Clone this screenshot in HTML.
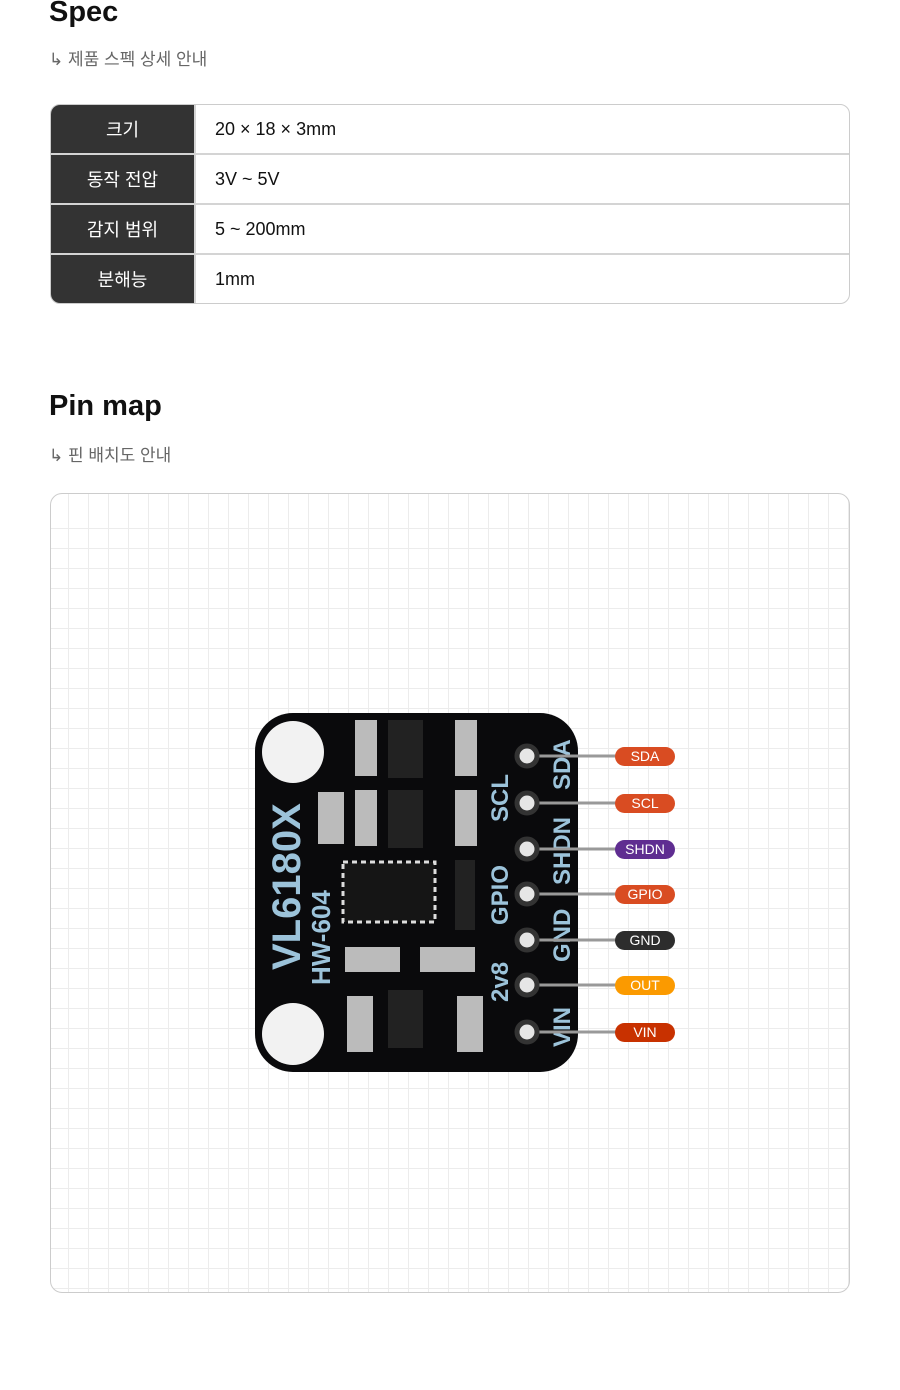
<!DOCTYPE html>
<html><head><meta charset="utf-8"><style>
body{margin:0;width:900px;height:1390px;background:#fff;font-family:"Liberation Sans","Noto Sans CJK KR",sans-serif;position:relative;overflow:hidden}
h2{position:absolute;left:49px;margin:0;font-size:29px;font-weight:700;color:#111}
.sub{position:absolute;left:49px;font-size:17px;color:#666}
table{position:absolute;left:50px;top:104px;width:800px;border-collapse:separate;border-spacing:0;border:1px solid #ccc;border-radius:10px;overflow:hidden}
td{height:48px;padding:0;font-size:18px;border-bottom:2px solid #d4d4d4;box-sizing:content-box}
tr:last-child td{border-bottom:none;height:48px}
td.k{width:143px;background:#333;color:#fff;text-align:center;border-right:2px solid #d4d4d4}
td.v{padding-left:19px;color:#111}
.box{position:absolute;left:50px;top:493px;width:798px;height:798px;border:1px solid #ccc;border-radius:12px;overflow:hidden;
background-image:repeating-linear-gradient(90deg,transparent 0 17px,#ececec 17px 18px,transparent 18px 20px),repeating-linear-gradient(0deg,transparent 0 19px,#ececec 19px 20px);background-position:0 0,0 16px}
</style></head><body>
<h2 style="top:-4px">Spec</h2>
<div class="sub" style="top:45px">↳ 제품 스펙 상세 안내</div>
<table>
<tr><td class="k">크기</td><td class="v">20 × 18 × 3mm</td></tr>
<tr><td class="k">동작 전압</td><td class="v">3V ~ 5V</td></tr>
<tr><td class="k">감지 범위</td><td class="v">5 ~ 200mm</td></tr>
<tr><td class="k">분해능</td><td class="v">1mm</td></tr>
</table>
<h2 style="top:390px">Pin map</h2>
<div class="sub" style="top:441px">↳ 핀 배치도 안내</div>
<div class="box"></div>
<svg style="position:absolute;left:0;top:0" width="900" height="1390" font-family="Liberation Sans, sans-serif">
<rect x="255" y="713" width="323" height="359" rx="38" fill="#0a0a0c"/>
<circle cx="293" cy="752" r="31" fill="#f2f2f2"/>
<circle cx="293" cy="1034" r="31" fill="#f2f2f2"/>
<rect x="343" y="862" width="92" height="60" fill="#151515" stroke="#ddd" stroke-dasharray="5 4" stroke-width="3"/>
<g fill="#bbb"><rect x="355" y="720" width="22" height="56"/><rect x="455" y="720" width="22" height="56"/><rect x="355" y="790" width="22" height="56"/><rect x="455" y="790" width="22" height="56"/><rect x="318" y="792" width="26" height="52"/><rect x="345" y="947" width="55" height="25"/><rect x="420" y="947" width="55" height="25"/><rect x="347" y="996" width="26" height="56"/><rect x="457" y="996" width="26" height="56"/></g>
<g fill="#222"><rect x="388" y="720" width="35" height="58"/><rect x="388" y="790" width="35" height="58"/><rect x="388" y="990" width="35" height="58"/><rect x="455" y="860" width="20" height="70"/></g>
<g fill="#9cc3da" font-weight="700">
<text transform="translate(300,970) rotate(-90)" font-size="40">VL6180X</text>
<text transform="translate(330,985) rotate(-90)" font-size="26">HW-604</text>
<text transform="translate(570,790) rotate(-90)" font-size="24">SDA</text>
<text transform="translate(508,822) rotate(-90)" font-size="24">SCL</text>
<text transform="translate(570,885) rotate(-90)" font-size="24">SHDN</text>
<text transform="translate(508,925) rotate(-90)" font-size="24">GPIO</text>
<text transform="translate(570,962) rotate(-90)" font-size="24">GND</text>
<text transform="translate(508,1002) rotate(-90)" font-size="24">2v8</text>
<text transform="translate(570,1047) rotate(-90)" font-size="24">VIN</text>
</g>
<g stroke="#999" stroke-width="3">
<line x1="530" y1="756" x2="620" y2="756"/><line x1="530" y1="803" x2="620" y2="803"/><line x1="530" y1="849" x2="620" y2="849"/><line x1="530" y1="894" x2="620" y2="894"/><line x1="530" y1="940" x2="620" y2="940"/><line x1="530" y1="985" x2="620" y2="985"/><line x1="530" y1="1032" x2="620" y2="1032"/>
</g>
<g fill="#e6e6e6" stroke="#333" stroke-width="5">
<circle cx="527" cy="756" r="10"/><circle cx="527" cy="803" r="10"/><circle cx="527" cy="849" r="10"/><circle cx="527" cy="894" r="10"/><circle cx="527" cy="940" r="10"/><circle cx="527" cy="985" r="10"/><circle cx="527" cy="1032" r="10"/>
</g>
<g font-size="14" fill="#fff" text-anchor="middle">
<rect x="615" y="747" width="60" height="19" rx="9.5" fill="#d94c22"/><text x="645" y="761">SDA</text>
<rect x="615" y="794" width="60" height="19" rx="9.5" fill="#d94c22"/><text x="645" y="808">SCL</text>
<rect x="615" y="840" width="60" height="19" rx="9.5" fill="#5f2d91"/><text x="645" y="854">SHDN</text>
<rect x="615" y="885" width="60" height="19" rx="9.5" fill="#d94c22"/><text x="645" y="899">GPIO</text>
<rect x="615" y="931" width="60" height="19" rx="9.5" fill="#2d2d2d"/><text x="645" y="945">GND</text>
<rect x="615" y="976" width="60" height="19" rx="9.5" fill="#fb9a00"/><text x="645" y="990">OUT</text>
<rect x="615" y="1023" width="60" height="19" rx="9.5" fill="#c83100"/><text x="645" y="1037">VIN</text>
</g>
</svg>
</body></html>
